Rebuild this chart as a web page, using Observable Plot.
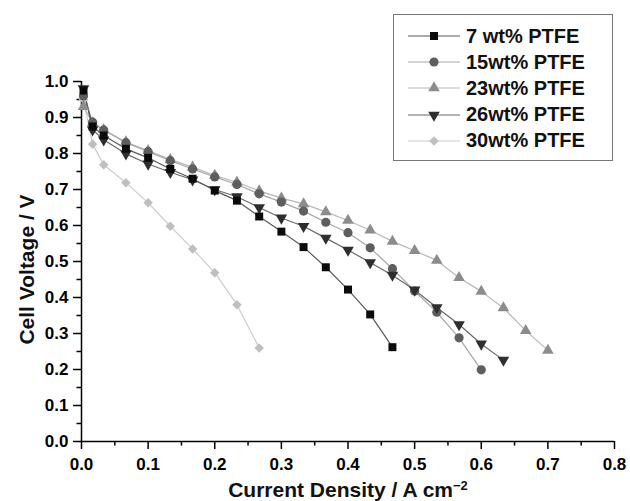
<!DOCTYPE html>
<html><head><meta charset="utf-8">
<script src="https://cdn.jsdelivr.net/npm/d3@7"></script>
<script src="https://cdn.jsdelivr.net/npm/@observablehq/plot@0.6"></script>
<style>
body{margin:0;background:#fff;}
#wrap{position:relative;width:630px;height:501px;font-family:"Liberation Sans",Arial,sans-serif;}
#legend{position:absolute;left:393px;top:14px;width:220px;height:147px;border:1.5px solid #777;box-sizing:border-box;background:#fff;padding-top:8px;}
.row{display:flex;align-items:center;height:26.2px;}
.row svg{margin-left:14px;margin-right:6px;}
.row span{font-weight:bold;font-size:20px;color:#111;}
</style></head><body><div id="wrap"></div>
<script>
// Current density (A cm^-2)
const current = [0.003, 0.0167, 0.0333, 0.0667, 0.1, 0.1333, 0.1667, 0.2, 0.2333, 0.2667, 0.3, 0.3333, 0.3667, 0.4, 0.4333, 0.4667, 0.5, 0.5333, 0.5667, 0.6, 0.6333, 0.6667, 0.7];
// Cell voltage (V) per PTFE loading
const v7  = [0.975, 0.875, 0.85, 0.813, 0.788, 0.757, 0.730, 0.697, 0.669, 0.625, 0.583, 0.540, 0.484, 0.422, 0.353, 0.262];
const v15 = [0.96, 0.887, 0.865, 0.830, 0.805, 0.78, 0.757, 0.735, 0.714, 0.688, 0.665, 0.640, 0.609, 0.580, 0.538, 0.480, 0.418, 0.359, 0.288, 0.199];
const v23 = [0.93, 0.885, 0.866, 0.832, 0.808, 0.783, 0.762, 0.739, 0.72, 0.696, 0.676, 0.660, 0.638, 0.614, 0.587, 0.556, 0.530, 0.503, 0.455, 0.417, 0.371, 0.308, 0.253];
const v26 = [0.98, 0.866, 0.838, 0.799, 0.771, 0.748, 0.727, 0.70, 0.68, 0.65, 0.621, 0.598, 0.565, 0.532, 0.497, 0.462, 0.421, 0.372, 0.325, 0.271, 0.226];
const v30 = [0.95, 0.826, 0.769, 0.719, 0.663, 0.598, 0.535, 0.469, 0.380, 0.260];
const names = ["7 wt% PTFE", "15wt% PTFE", "23wt% PTFE", "26wt% PTFE", "30wt% PTFE"];
const xTicks = [0, 0.1, 0.2, 0.3, 0.4, 0.5, 0.6, 0.7, 0.8];
const yTicks = [0, 0.1, 0.2, 0.3, 0.4, 0.5, 0.6, 0.7, 0.8, 0.9, 1.0];
const xMinor = [0.05, 0.15, 0.25, 0.35, 0.45, 0.55, 0.65, 0.75];
const yMinor = [0.05, 0.15, 0.25, 0.35, 0.45, 0.55, 0.65, 0.75, 0.85, 0.95];
const xTitle = "Current Density / A cm";
const xTitleSup = "\u22122";
const yTitle = "Cell Voltage / V";

const triDown = {
  draw(ctx, size) {
    const s3 = Math.sqrt(3);
    const y = -Math.sqrt(size / (s3 * 3));
    ctx.moveTo(0, -y * 2);
    ctx.lineTo(-s3 * y, y);
    ctx.lineTo(s3 * y, y);
    ctx.closePath();
  }
};

const series = [
  {name: names[0], v: v7,  symbol: d3.symbolSquare,   sym: "square",   fill: "#0b0b0b", line: "#5a5a5a", r: 4.5},
  {name: names[1], v: v15, symbol: d3.symbolCircle,   sym: "circle",   fill: "#5e5e5e", line: "#a8a8a8", r: 4.6},
  {name: names[2], v: v23, symbol: d3.symbolTriangle, sym: "triangle", fill: "#8c8c8c", line: "#b8b8b8", r: 4.3},
  {name: names[3], v: v26, symbol: triDown,           sym: triDown,    fill: "#2e2e2e", line: "#6a6a6a", r: 4.3},
  {name: names[4], v: v30, symbol: d3.symbolDiamond2, sym: "diamond2", fill: "#bfbfbf", line: "#cccccc", r: 4.3}
];
series.forEach(s => s.rows = s.v.map((y, i) => ({x: current[i], y})));

const drawOrder = [4, 2, 1, 3, 0];
const marks = [];
drawOrder.forEach(k => {
  const s = series[k];
  marks.push(Plot.line(s.rows, {x: "x", y: "y", stroke: s.line, strokeWidth: 1.2}));
});
drawOrder.forEach(k => {
  const s = series[k];
  marks.push(Plot.dot(s.rows, {x: "x", y: "y", symbol: s.sym, r: s.r, fill: s.fill, stroke: "none"}));
});

const plot = Plot.plot({
  width: 630,
  height: 501,
  marginLeft: 81,
  marginRight: 16,
  marginTop: 81,
  marginBottom: 60,
  style: {fontFamily: "Liberation Sans, Arial, sans-serif", fontSize: "17px", fontWeight: "bold", background: "#fff", color: "#000"},
  x: {domain: [0, 0.8]},
  y: {domain: [0, 1.0]},
  marks: [
    Plot.axisX(xTicks, {tickSize: 8, tickPadding: 8, tickFormat: d3.format(".1f"), strokeWidth: 1.5, label: null}),
    Plot.axisX(xMinor, {tickSize: 4.5, tickFormat: () => "", strokeWidth: 1.5, label: null}),
    Plot.axisY(yTicks, {tickSize: 8, tickPadding: 5, tickFormat: d3.format(".1f"), strokeWidth: 1.5, label: null}),
    Plot.axisY(yMinor, {tickSize: 4.5, tickFormat: () => "", strokeWidth: 1.5, label: null}),
    Plot.ruleY([0], {stroke: "#000", strokeWidth: 1.5}),
    Plot.ruleX([0], {stroke: "#000", strokeWidth: 1.5}),
    ...marks,
    Plot.text([xTitle], {frameAnchor: "bottom", dy: 49, textAnchor: "middle", lineAnchor: "middle", fontSize: 21, fontWeight: "bold", fill: "#111"}),
    Plot.text([yTitle], {frameAnchor: "left", dx: -54, dy: 8, rotate: -90, textAnchor: "middle", lineAnchor: "middle", fontSize: 21, fontWeight: "bold", fill: "#111"})
  ]
});

d3.select(plot).selectAll("text")
  .filter(function() { return this.textContent === xTitle; })
  .append("tspan").attr("dy", "-0.55em").attr("font-size", 13).text(xTitleSup);

const wrap = document.getElementById("wrap");
wrap.appendChild(plot);

const legend = document.createElement("div");
legend.id = "legend";
series.forEach(s => {
  const row = document.createElement("div");
  row.className = "row";
  const svg = d3.create("svg").attr("width", 52).attr("height", 20);
  svg.append("line").attr("x1", 0).attr("x2", 52).attr("y1", 10).attr("y2", 10)
    .attr("stroke", s.line).attr("stroke-width", 1.2);
  svg.append("path").attr("transform", "translate(26,10)")
    .attr("d", d3.symbol(s.symbol, Math.PI * s.r * s.r)())
    .attr("fill", s.fill);
  row.appendChild(svg.node());
  const t = document.createElement("span");
  t.textContent = s.name;
  row.appendChild(t);
  legend.appendChild(row);
});
wrap.appendChild(legend);
</script>
</body></html>
